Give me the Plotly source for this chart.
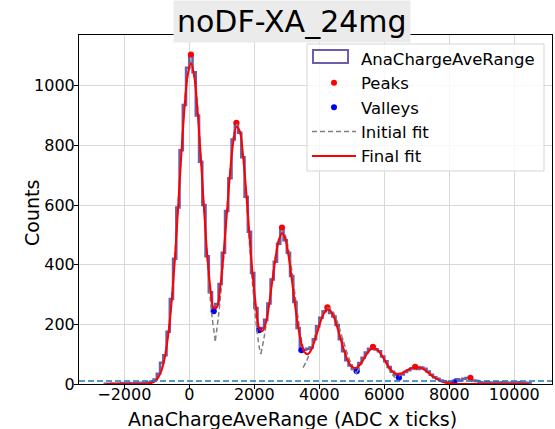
import plotly.graph_objects as go

# ---------------- data ----------------
bin_start = -2600
bin_width = 100
counts = [1, 1, 2, 1, 2, 3, 2, 3, 2, 3, 3, 4, 4, 5, 8, 15, 34, 71, 96, 175,
          285, 420, 592, 784, 935, 1060, 1105, 1045, 900, 745, 600, 428, 308, 244, 268, 335,
          440, 580, 690, 820, 876, 842, 760, 628, 510, 372, 255, 180, 188, 215,
          270, 350, 410, 470, 525, 482, 440, 362, 275, 188, 113, 115, 118, 122,
          150, 194, 222, 244, 257, 238, 226, 198, 150, 110, 80, 62, 50, 43,
          70, 88, 106, 118, 125, 116, 110, 92, 76, 57, 41, 30, 21, 32, 40, 46,
          52, 58, 50, 55, 51, 42, 31, 23, 18, 12, 9, 5, 7, 6, 16, 12, 18, 20,
          21, 12, 10, 6, 4, 7, 5, 3, 6, 4, 6, 5, 3, 5, 4, 6, 3, 4, 3]

final_fit = [0] * 12 + [0.6, 1.6, 4, 10, 23, 47, 91, 164, 268, 409, 581, 761, 921, 1034,
             1075, 1034, 921, 766, 592, 434, 320, 255, 258, 322, 430, 565, 701, 809,
             862, 848, 770, 646, 501, 365, 260, 188, 178, 203, 262, 342, 420, 480,
             505, 488, 432, 354, 268, 192, 136, 106, 100, 114, 143, 178, 213, 238,
             250, 245, 224, 191, 154, 117, 85, 64, 55, 55, 65, 81, 99, 113, 120,
             118, 107, 91, 73, 55, 42, 35, 34, 36, 43, 49, 54, 57, 56, 53, 46, 38,
             29, 21, 15, 9, 6, 3, 2, 1, 0.5] + [0] * 22

init_fit_x = [
    [-1100, -900, -700, -500, -300, -100, 50, 200, 400, 600, 700, 800],
    [800, 900, 1000, 1100, 1200, 1300, 1400, 1470, 1550, 1650, 1750, 1850, 1950, 2050, 2150, 2200],
    [2200, 2300, 2400, 2500, 2600, 2700, 2800, 2870, 2950, 3050, 3150, 3250, 3350, 3450, 3500],
    [3500, 3600, 3700, 3800, 3900, 4000, 4100, 4200, 4280, 4400, 4500, 4600, 4700, 4800, 4900, 5000, 5100, 5150],
    [5150, 5250, 5350, 5450, 5550, 5680, 5800, 5900, 6000, 6100, 6200, 6300, 6450],
    [6450, 6550, 6650, 6750, 6850, 6980, 7100, 7200, 7300, 7400, 7500, 7600, 7700, 7800, 7900, 8000, 8100],
]
init_fit_y = [
    [8, 37, 132, 345, 681, 993, 1080, 993, 681, 345, 226, 145],
    [145, 230, 344, 491, 641, 771, 853, 870, 847, 760, 626, 475, 331, 211, 125, 100],
    [100, 155, 227, 310, 391, 459, 501, 510, 498, 453, 383, 301, 219, 149, 120],
    [55, 75, 103, 136, 173, 206, 234, 251, 255, 245, 224, 194, 158, 123, 90, 63, 42, 33],
    [39, 57, 78, 98, 114, 122, 115, 100, 81, 59, 40, 25, 11],
    [26, 34, 42, 49, 54, 57, 55, 50, 43, 35, 26, 19, 13, 8.5, 5, 3, 1.6],
]

peaks_x = [50, 1450, 2850, 4250, 5650, 6950, 8650]
peaks_y = [1105, 876, 525, 257, 125, 58, 21]
valleys_x = [750, 2150, 3450, 5150, 6450, 8150]
valleys_y = [244, 180, 113, 43, 21, 6]

threshold = 10

title_text = "noDF-XA_24mg"
x_label = "AnaChargeAveRange (ADC x ticks)"
y_label = "Counts"
hist_name = "AnaChargeAveRange"

# ---------------- derived ----------------
n = len(counts)
edges = [bin_start + i * bin_width for i in range(n + 1)]
centers = [bin_start + (i + 0.5) * bin_width for i in range(n)]
hx = [edges[0]] + edges + [edges[-1]]
hy = [0] + counts + [counts[-1], 0]

ix, iy = [], []
for sx, sy in zip(init_fit_x, init_fit_y):
    ix += sx + [None]
    iy += sy + [None]

FONT = "DejaVu Sans"
HIST_COLOR = "rgba(72,52,150,0.8)"
W, H = 555, 429
L, R, T, B = 79, 3, 35, 45
PW, PH = W - L - R, H - T - B


def px_x(p):
    return (p - L) / PW


def px_y(p):
    return (H - B - p) / PH


fig = go.Figure()

fig.add_trace(go.Scatter(
    x=hx, y=hy, mode="lines", line=dict(shape="hv", color=HIST_COLOR, width=2.5),
    name=hist_name, showlegend=False))
# legend entry for the histogram (icon drawn as a box shape below)
fig.add_trace(go.Scatter(
    x=[None], y=[None], mode="lines", name=hist_name,
    line=dict(color="rgba(0,0,0,0)", width=0)))
fig.add_trace(go.Scatter(
    x=peaks_x, y=peaks_y, mode="markers", marker=dict(color="red", size=6), name="Peaks"))
fig.add_trace(go.Scatter(
    x=valleys_x, y=valleys_y, mode="markers", marker=dict(color="blue", size=6), name="Valleys"))
fig.add_trace(go.Scatter(
    x=ix, y=iy, mode="lines", connectgaps=False,
    line=dict(color="#808080", width=1.5, dash="5px,3px", shape="spline"), name="Initial fit"))
fig.add_trace(go.Scatter(
    x=centers, y=final_fit, mode="lines",
    line=dict(color="red", width=2, shape="spline"), name="Final fit"))

fig.add_hline(y=threshold, line=dict(color="#1f77b4", width=1.5, dash="6px,3px"))

# legend frame (matplotlib-like, semi-transparent) and histogram legend box icon
fig.add_shape(type="rect", xref="paper", yref="paper", layer="above",
              x0=px_x(307), x1=px_x(544), y0=px_y(171), y1=px_y(44),
              fillcolor="rgba(255,255,255,0.8)", line=dict(color="#d5d5d5", width=1))
fig.add_shape(type="rect", xref="paper", yref="paper", layer="above",
              x0=px_x(313), x1=px_x(348), y0=px_y(63), y1=px_y(50),
              fillcolor="rgba(0,0,0,0)", line=dict(color=HIST_COLOR, width=2))

axis_common = dict(
    showline=True, linecolor="black", linewidth=1, mirror=True,
    ticks="outside", ticklen=4, tickcolor="black",
    showgrid=True, gridcolor="#d9d9d9", gridwidth=1, zeroline=False,
    tickfont=dict(family=FONT, size=16, color="black"),
)

fig.update_layout(
    width=W, height=H,
    margin=dict(l=L, r=R, t=T, b=B),
    paper_bgcolor="white", plot_bgcolor="white",
    font=dict(family=FONT, color="black"),
    showlegend=True,
    legend=dict(
        x=px_x(307), y=px_y(41), xanchor="left", yanchor="top",
        bgcolor="rgba(0,0,0,0)", borderwidth=0, itemwidth=44,
        font=dict(family=FONT, size=16.5, color="black"),
    ),
    xaxis=dict(range=[-3394, 11160], tickvals=[-2000, 0, 2000, 4000, 6000, 8000, 10000],
               ticktext=["\u22122000", "0", "2000", "4000", "6000", "8000", "10000"],
               ticklabelstandoff=-8, **axis_common),
    yaxis=dict(range=[0, 1170], tickvals=[0, 200, 400, 600, 800, 1000],
               ticklabelstandoff=-4, **axis_common),
    annotations=[
        dict(text=title_text, xref="paper", yref="paper", x=0.451, y=px_y(43),
             xanchor="center", yanchor="bottom", showarrow=False,
             font=dict(family=FONT, size=30, color="black"), bgcolor="#ebebeb", borderpad=3),
        dict(text=x_label, xref="paper", yref="paper", x=px_x(292), y=px_y(432),
             xanchor="center", yanchor="bottom", showarrow=False,
             font=dict(family=FONT, size=19, color="black")),
        dict(text=y_label, xref="paper", yref="paper", x=px_x(32), y=0.49, textangle=-90,
             xanchor="center", yanchor="middle", showarrow=False,
             font=dict(family=FONT, size=19, color="black")),
    ],
)

fig.write_html("out.html")
